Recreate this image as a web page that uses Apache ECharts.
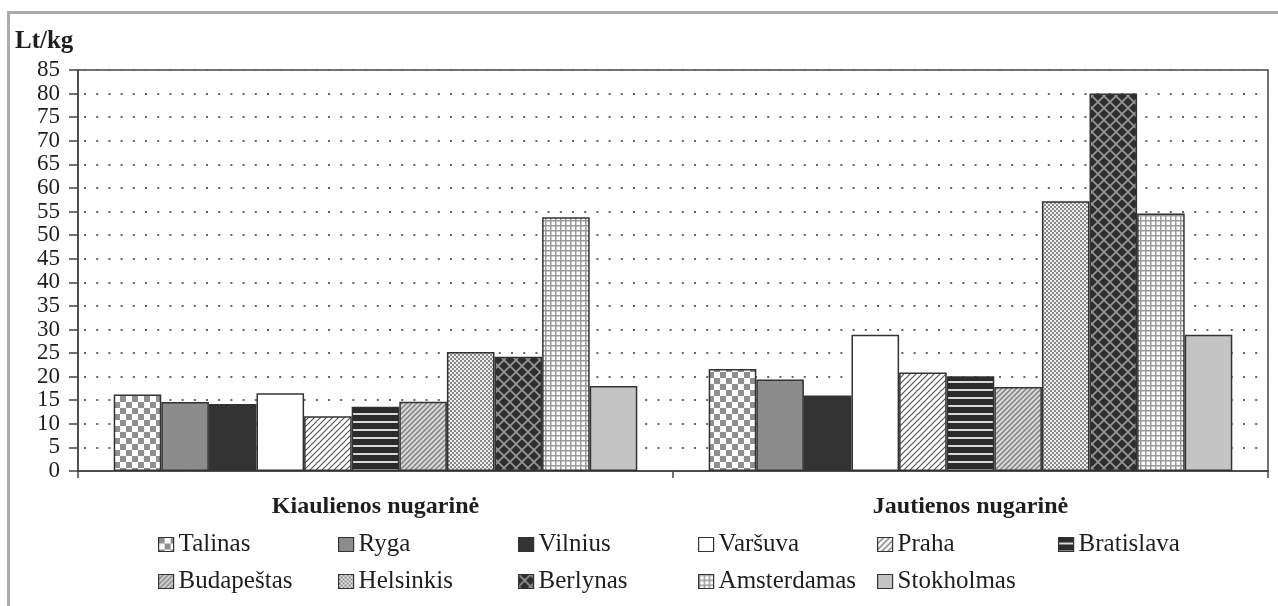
<!DOCTYPE html>
<html>
<head>
<meta charset="utf-8">
<script src="https://cdn.jsdelivr.net/npm/echarts@6/dist/echarts.min.js"></script>
<style>
  html, body { margin: 0; padding: 0; background: #fff; overflow: hidden; }
  #frame { position: absolute; left: 7px; top: 11px; width: 1400px; height: 800px; border: 3px solid #ababab; box-sizing: border-box; }
  #chart { position: absolute; left: 0; top: 0; width: 1278px; height: 606px; }
</style>
</head>
<body>
<div id="frame"></div>
<div id="chart"></div>
<script>
const categories = ['Kiaulienos nugarinė', 'Jautienos nugarinė'];
const cities = ['Talinas', 'Ryga', 'Vilnius', 'Varšuva', 'Praha', 'Bratislava',
                'Budapeštas', 'Helsinkis', 'Berlynas', 'Amsterdamas', 'Stokholmas'];
const porkValues = [16.2, 14.6, 14.2, 16.5, 11.6, 13.6, 14.7, 25.2, 24.2, 53.8, 18.0];
const beefValues = [21.6, 19.4, 16.0, 28.9, 20.9, 20.1, 17.8, 57.2, 80.0, 54.6, 28.9];
const yAxisTitle = 'Lt/kg';

function pat(w, h, draw) {
  const c = document.createElement('canvas');
  c.width = w; c.height = h;
  const g = c.getContext('2d');
  draw(g, w, h);
  return { image: c, repeat: 'repeat' };
}
const fills = [
  pat(12, 12, (g) => { g.fillStyle = '#fff'; g.fillRect(0,0,12,12); g.fillStyle = '#8f8f8f'; g.fillRect(0,0,6,6); g.fillRect(6,6,6,6); }),
  '#8c8c8c',
  '#333333',
  '#ffffff',
  pat(6, 6, (g) => { g.fillStyle = '#fff'; g.fillRect(0,0,6,6); g.strokeStyle = '#555'; g.lineWidth = 1.2;
    g.beginPath(); g.moveTo(0,6); g.lineTo(6,0); g.moveTo(-1,1); g.lineTo(1,-1); g.moveTo(5,7); g.lineTo(7,5); g.stroke(); }),
  pat(8, 8, (g) => { g.fillStyle = '#2b2b2b'; g.fillRect(0,0,8,8); g.fillStyle = '#d8d8d8'; g.fillRect(0,5,8,2); }),
  pat(5, 5, (g) => { g.fillStyle = '#d6d6d6'; g.fillRect(0,0,5,5); g.strokeStyle = '#808080'; g.lineWidth = 1.4;
    g.beginPath(); g.moveTo(0,5); g.lineTo(5,0); g.moveTo(-1,1); g.lineTo(1,-1); g.moveTo(4,6); g.lineTo(6,4); g.stroke(); }),
  pat(4, 4, (g) => { g.fillStyle = '#ececec'; g.fillRect(0,0,4,4); g.fillStyle = '#8a8a8a'; g.fillRect(0,0,2,2); g.fillRect(2,2,2,2); }),
  pat(12, 12, (g) => { g.fillStyle = '#2e2e2e'; g.fillRect(0,0,12,12); g.strokeStyle = '#9a9a9a'; g.lineWidth = 1.6;
    g.beginPath(); g.moveTo(0,0); g.lineTo(12,12); g.moveTo(12,0); g.lineTo(0,12); g.stroke(); }),
  pat(5, 5, (g) => { g.fillStyle = '#fff'; g.fillRect(0,0,5,5); g.fillStyle = '#9a9a9a'; g.fillRect(0,0,5,1.5); g.fillRect(0,0,1.5,5); }),
  '#c4c4c4'
];

const serif = '"Liberation Serif", "DejaVu Serif", serif';
const series = cities.map((name, i) => ({
  name: name,
  type: 'bar',
  data: [porkValues[i], beefValues[i]],
  barGap: '0%',
  barCategoryGap: '12%',
  itemStyle: { color: fills[i], borderColor: '#333', borderWidth: 1.5 }
}));

const legendLefts = [158, 338, 518, 698, 877, 1058];
const legendTops = [532, 569];
const legends = cities.map((name, i) => ({
  data: [{ name: name, icon: 'rect' }],
  left: legendLefts[i % 6],
  top: legendTops[Math.floor(i / 6)],
  itemWidth: 15,
  itemHeight: 14,
  itemStyle: { borderColor: '#333', borderWidth: 1.2 },
  textStyle: { fontFamily: serif, fontSize: 25, color: '#1e1e1e' },
  padding: 0,
  selectedMode: false
}));

const chart = echarts.init(document.getElementById('chart'), null, { renderer: 'canvas' });
chart.setOption({
  backgroundColor: 'transparent',
  animation: false,
  title: {
    text: yAxisTitle, left: 15, top: 29, padding: 0,
    textStyle: { fontFamily: serif, fontSize: 25, fontWeight: 'bold', color: '#1e1e1e' }
  },
  legend: legends,
  grid: { left: 78, top: 70, right: 10, bottom: 135, show: true, borderColor: '#444', borderWidth: 1.5, containLabel: false },
  xAxis: {
    type: 'category',
    data: categories,
    axisLine: { lineStyle: { color: '#444', width: 1.5 } },
    axisTick: { show: true, length: 7, lineStyle: { color: '#444', width: 1.5 } },
    axisLabel: { margin: 24, fontFamily: serif, fontSize: 24, fontWeight: 'bold', color: '#1e1e1e' },
    splitLine: { show: false }
  },
  yAxis: {
    type: 'value',
    min: 0, max: 85, interval: 5,
    axisLine: { show: true, lineStyle: { color: '#444', width: 1.5 } },
    axisTick: { show: true, length: 9, lineStyle: { color: '#444', width: 1.5 } },
    axisLabel: { margin: 18, fontFamily: serif, fontSize: 23, color: '#1e1e1e' },
    splitLine: { show: true, lineStyle: { color: '#666', width: 2, type: [2, 10.2], dashOffset: -6 } }
  },
  series: series
});
</script>
</body>
</html>
